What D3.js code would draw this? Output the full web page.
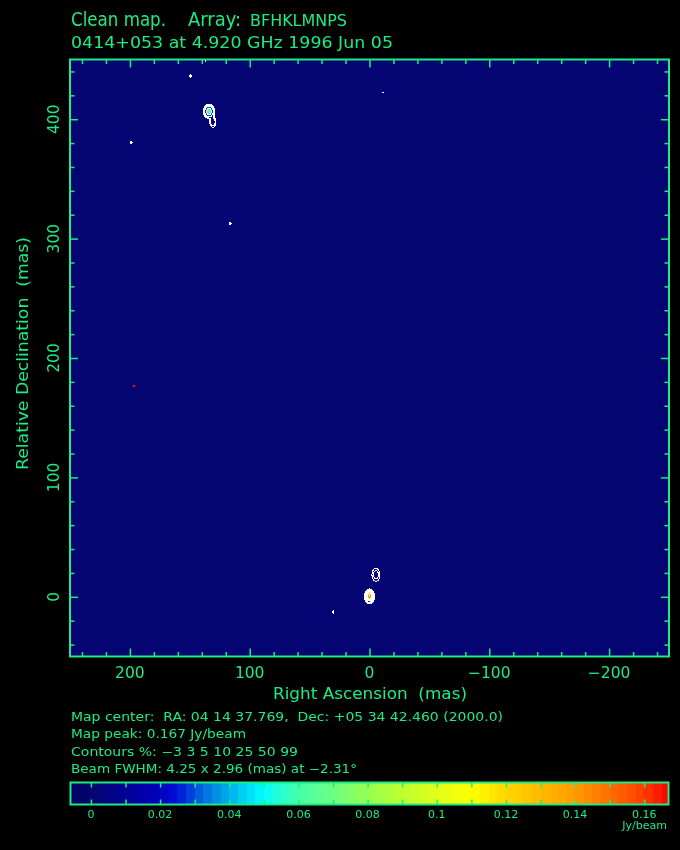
<!DOCTYPE html>
<html><head><meta charset="utf-8">
<script src="https://cdn.jsdelivr.net/npm/d3@7"></script>
<style>
html,body{margin:0;padding:0;background:#000;}
#wrap{position:relative;width:680px;height:850px;background:#000;overflow:hidden;}
#map{position:absolute;}
svg{position:absolute;left:0;top:0;}
text{font-family:"DejaVu Sans",sans-serif;white-space:pre;}
</style>
</head><body>
<div id="wrap"><canvas id="map"></canvas><svg id="chart" width="680" height="850"></svg></div>
<script>
// ---------------- data ----------------
const titleLine1a = "Clean map.";
const titleLine1b = "Array:";
const titleLine1c = "BFHKLMNPS";
const titleLine2 = "0414+053 at 4.920 GHz 1996 Jun 05";
const xTitle = "Right Ascension  (mas)";
const yTitle = "Relative Declination  (mas)";
const infoLines = [
  "Map center:  RA: 04 14 37.769,  Dec: +05 34 42.460 (2000.0)",
  "Map peak: 0.167 Jy/beam",
  "Contours %: \u22123 3 5 10 25 50 99",
  "Beam FWHM: 4.25 x 2.96 (mas) at \u22122.31\u00b0"
];
const xDomain = [250, -250];
const yDomain = [-50, 450];
const xTicks = [200, 100, 0, -100, -200];
const xTickLabels = ["200", "100", "0", "\u2212100", "\u2212200"];
const yTicks = [0, 100, 200, 300, 400];
const yTickLabels = ["0", "100", "200", "300", "400"];
const minorStep = 20;
const mapPeak = 0.167;
const contourPercents = [-3, 3, 5, 10, 25, 50, 99];
// Gaussian components: RA, Dec (mas), sigma RA, sigma Dec (mas), peak (Jy/beam)
const compRA    = [0,     -5.4,  134,   130.7, 149.7,  136.8, 199,    -11.3,  116.4,  30.2];
const compDec   = [0.4,   18.4,  406.5, 397.5, 436.2,  451.5, 380.4,  422,    312.7,  -12.8];
const compSigRA = [1.6,   2.5,   2.0,   1.7,   1.4,    1.5,   2.0,    2.5,    1.8,    1.2];
const compSigDec= [2.3,   4.1,   2.6,   3.0,   1.4,    4.5,   2.0,    0.9,    1.8,    2.0];
const compPeak  = [0.167, 0.012, 0.07,  0.015, 0.0065, 0.006, 0.0055, 0.0056, 0.0056, 0.0058];
// single hot pixel (no contour)
const hotRA = [196.5];
const hotDec = [176.7];
const hotVal = [0.165];
// colour bar
const cbDomain = [-0.0059, 0.167];
const cbTicks = [0, 0.02, 0.04, 0.06, 0.08, 0.10, 0.12, 0.14, 0.16];
const cbTickLabels = ["0", "0.02", "0.04", "0.06", "0.08", "0.1", "0.12", "0.14", "0.16"];
const cbMinorStep = 0.01;
const cbUnit = "Jy/beam";
const cmapValues = [-0.006, 0, 0.01, 0.02, 0.025, 0.03, 0.035, 0.04, 0.045, 0.05, 0.055, 0.06, 0.07, 0.08, 0.09, 0.10, 0.11, 0.12, 0.13, 0.14, 0.15, 0.16, 0.167];
const cmapColors = ["#000064", "#04046e", "#000096", "#0000be", "#0010d8", "#0050dc", "#0085e0", "#00b0ea", "#00d8f4", "#00ffff", "#28ffd2", "#46ffaa", "#6eff82", "#96ff50", "#beff32", "#e1ff19", "#ffff00", "#ffd700", "#ffb900", "#ff9b00", "#ff6e00", "#ff3c00", "#ff0000"];
const cmapStep = 0.0025;

// ---------------- layout ----------------
const GREEN = "rgb(30,235,130)";
const plot = {l: 70, r: 669, t: 59.5, b: 656.5};
const x = d3.scaleLinear().domain(xDomain).range([plot.l, plot.r]);
const y = d3.scaleLinear().domain(yDomain).range([plot.b, plot.t]);
const cmap = d3.scaleLinear().domain(cmapValues).range(cmapColors).interpolate(d3.interpolateRgb).clamp(true);
const qcolor = v => cmap((Math.floor(v / cmapStep) + 0.5) * cmapStep);

// ---------------- raster ----------------
const gx0 = 70, gy0 = 59, gW = 599, gH = 598;
const vals = new Float64Array(gW * gH);
for (let c = 0; c < compRA.length; c++) {
  const sx = Math.abs(x(compSigRA[c]) - x(0)), sy = Math.abs(y(compSigDec[c]) - y(0));
  const cx = x(compRA[c]) - gx0, cy = y(compDec[c]) - gy0;
  const i0 = Math.max(0, Math.floor(cx - 6 * sx)), i1 = Math.min(gW - 1, Math.ceil(cx + 6 * sx));
  const j0 = Math.max(0, Math.floor(cy - 6 * sy)), j1 = Math.min(gH - 1, Math.ceil(cy + 6 * sy));
  for (let j = j0; j <= j1; j++) for (let i = i0; i <= i1; i++) {
    const dx = (i + 0.5 - cx) / sx, dy = (j + 0.5 - cy) / sy;
    vals[j * gW + i] += compPeak[c] * Math.exp(-0.5 * (dx * dx + dy * dy));
  }
}
const canvas = document.getElementById("map");
canvas.width = gW; canvas.height = gH;
canvas.style.left = gx0 + "px"; canvas.style.top = gy0 + "px";
const ctx = canvas.getContext("2d");
const img = ctx.createImageData(gW, gH);
const cache = new Map();
for (let k = 0; k < vals.length; k++) {
  const q = Math.floor(vals[k] / cmapStep);
  let col = cache.get(q);
  if (!col) { col = d3.rgb(qcolor(vals[k])); cache.set(q, col); }
  img.data[4 * k] = col.r; img.data[4 * k + 1] = col.g; img.data[4 * k + 2] = col.b; img.data[4 * k + 3] = 255;
}
ctx.putImageData(img, 0, 0);
hotRA.forEach((ra, i) => {
  ctx.fillStyle = qcolor(hotVal[i]);
  ctx.fillRect(Math.round(x(ra)) - gx0 - 1, Math.round(y(hotDec[i])) - gy0 - 1, 2, 2);
});

// ---------------- svg ----------------
const svg = d3.select("#chart");

// contours (positive levels only: no negative emission present)
const levels = contourPercents.filter(p => p > 0).map(p => p / 100 * mapPeak);
const contours = d3.contours().size([gW, gH]).thresholds(levels)(Array.from(vals));
const cpath = d3.geoPath(d3.geoIdentity().translate([gx0, gy0]));
svg.append("g").selectAll("path").data(contours).join("path")
  .attr("d", cpath).attr("fill", "none").attr("stroke", "#fff").attr("stroke-width", 1)
  .attr("shape-rendering", "crispEdges");

// ticks
const xMinor = d3.range(-240, 241, minorStep).filter(v => v % 100 !== 0);
const yMinor = d3.range(-40, 441, minorStep).filter(v => v % 100 !== 0);
function tickAxis(gen, scale, vals, size, tx, ty) {
  const g = svg.append("g").attr("transform", `translate(${tx},${ty})`)
    .call(gen(scale).tickValues(vals).tickSize(size).tickFormat(""));
  g.select(".domain").remove();
  g.selectAll("line").attr("stroke", GREEN).attr("stroke-width", 1.5);
}
tickAxis(d3.axisBottom, x, xTicks, -8, 0, plot.b);
tickAxis(d3.axisBottom, x, xMinor, -4.5, 0, plot.b);
tickAxis(d3.axisTop, x, xTicks, -8, 0, plot.t);
tickAxis(d3.axisTop, x, xMinor, -4.5, 0, plot.t);
tickAxis(d3.axisLeft, y, yTicks, -8, plot.l, 0);
tickAxis(d3.axisLeft, y, yMinor, -4.5, plot.l, 0);
tickAxis(d3.axisRight, y, yTicks, -8, plot.r, 0);
tickAxis(d3.axisRight, y, yMinor, -4.5, plot.r, 0);

svg.append("rect").attr("x", plot.l).attr("y", plot.t).attr("width", plot.r - plot.l).attr("height", plot.b - plot.t)
  .attr("fill", "none").attr("stroke", GREEN).attr("stroke-width", 2);

// tick labels
svg.append("g").selectAll("text").data(xTicks).join("text")
  .attr("x", d => x(d)).attr("y", 678).attr("text-anchor", "middle")
  .attr("font-size", 15.5).attr("fill", GREEN).text((d, i) => xTickLabels[i]);
svg.append("g").selectAll("text").data(yTicks).join("text")
  .attr("transform", d => `translate(59,${y(d)}) rotate(-90)`).attr("text-anchor", "middle")
  .attr("font-size", 15.5).attr("fill", GREEN).text((d, i) => yTickLabels[i]);

// axis titles
svg.append("text").attr("x", 370).attr("y", 699).attr("text-anchor", "middle")
  .attr("font-size", 15.5).attr("fill", GREEN).attr("textLength", 194).attr("lengthAdjust", "spacingAndGlyphs").text(xTitle);
svg.append("text").attr("transform", "translate(28,353.5) rotate(-90)").attr("text-anchor", "middle")
  .attr("font-size", 15.5).attr("fill", GREEN).attr("textLength", 233).attr("lengthAdjust", "spacingAndGlyphs").text(yTitle);

// titles
svg.append("text").attr("x", 71).attr("y", 26).attr("font-family", "'Liberation Serif',serif")
  .attr("font-size", 19).attr("fill", GREEN).attr("textLength", 95).attr("lengthAdjust", "spacingAndGlyphs").text(titleLine1a);
svg.append("text").attr("x", 188).attr("y", 26).attr("font-family", "'Liberation Serif',serif")
  .attr("font-size", 19).attr("fill", GREEN).attr("textLength", 53).attr("lengthAdjust", "spacingAndGlyphs").text(titleLine1b);
svg.append("text").attr("x", 250).attr("y", 26)
  .attr("font-size", 16).attr("fill", GREEN).attr("textLength", 97).attr("lengthAdjust", "spacingAndGlyphs").text(titleLine1c);
svg.append("text").attr("x", 71).attr("y", 47.5)
  .attr("font-size", 15.5).attr("fill", GREEN).attr("textLength", 322).attr("lengthAdjust", "spacingAndGlyphs").text(titleLine2);

// info lines
const infoY = [720.5, 738, 755.5, 773];
const infoW = [432, 175, 227, 286];
svg.append("g").selectAll("text").data(infoLines).join("text")
  .attr("x", 71).attr("y", (d, i) => infoY[i]).attr("font-size", 12).attr("fill", GREEN)
  .attr("textLength", (d, i) => infoW[i]).attr("lengthAdjust", "spacingAndGlyphs").text(d => d);

// colour bar
const cb = {l: 70.5, r: 668.5, t: 782.5, b: 804.5};
const cx = d3.scaleLinear().domain(cbDomain).range([cb.l, cb.r]);
const kMin = Math.floor(cbDomain[0] / cmapStep), kMax = Math.ceil(cbDomain[1] / cmapStep);
const blocks = d3.range(kMin, kMax);
svg.append("g").selectAll("rect").data(blocks).join("rect")
  .attr("x", k => cx(Math.max(cbDomain[0], k * cmapStep)))
  .attr("width", k => cx(Math.min(cbDomain[1], (k + 1) * cmapStep)) - cx(Math.max(cbDomain[0], k * cmapStep)) + 0.5)
  .attr("y", cb.t).attr("height", cb.b - cb.t)
  .attr("fill", k => qcolor((k + 0.5) * cmapStep)).attr("shape-rendering", "crispEdges");
const cbAll = d3.range(0, 0.1661, cbMinorStep);
tickAxis(d3.axisBottom, cx, cbAll, -5, 0, cb.b);
tickAxis(d3.axisTop, cx, cbAll, -5, 0, cb.t);
svg.append("rect").attr("x", cb.l).attr("y", cb.t).attr("width", cb.r - cb.l).attr("height", cb.b - cb.t)
  .attr("fill", "none").attr("stroke", GREEN).attr("stroke-width", 2);
svg.append("g").selectAll("text").data(cbTicks).join("text")
  .attr("x", d => cx(d)).attr("y", 818).attr("text-anchor", "middle")
  .attr("font-size", 11).attr("fill", GREEN).text((d, i) => cbTickLabels[i]);
svg.append("text").attr("x", 667).attr("y", 829).attr("text-anchor", "end")
  .attr("font-size", 11).attr("fill", GREEN).text(cbUnit);
</script>
</body></html>
